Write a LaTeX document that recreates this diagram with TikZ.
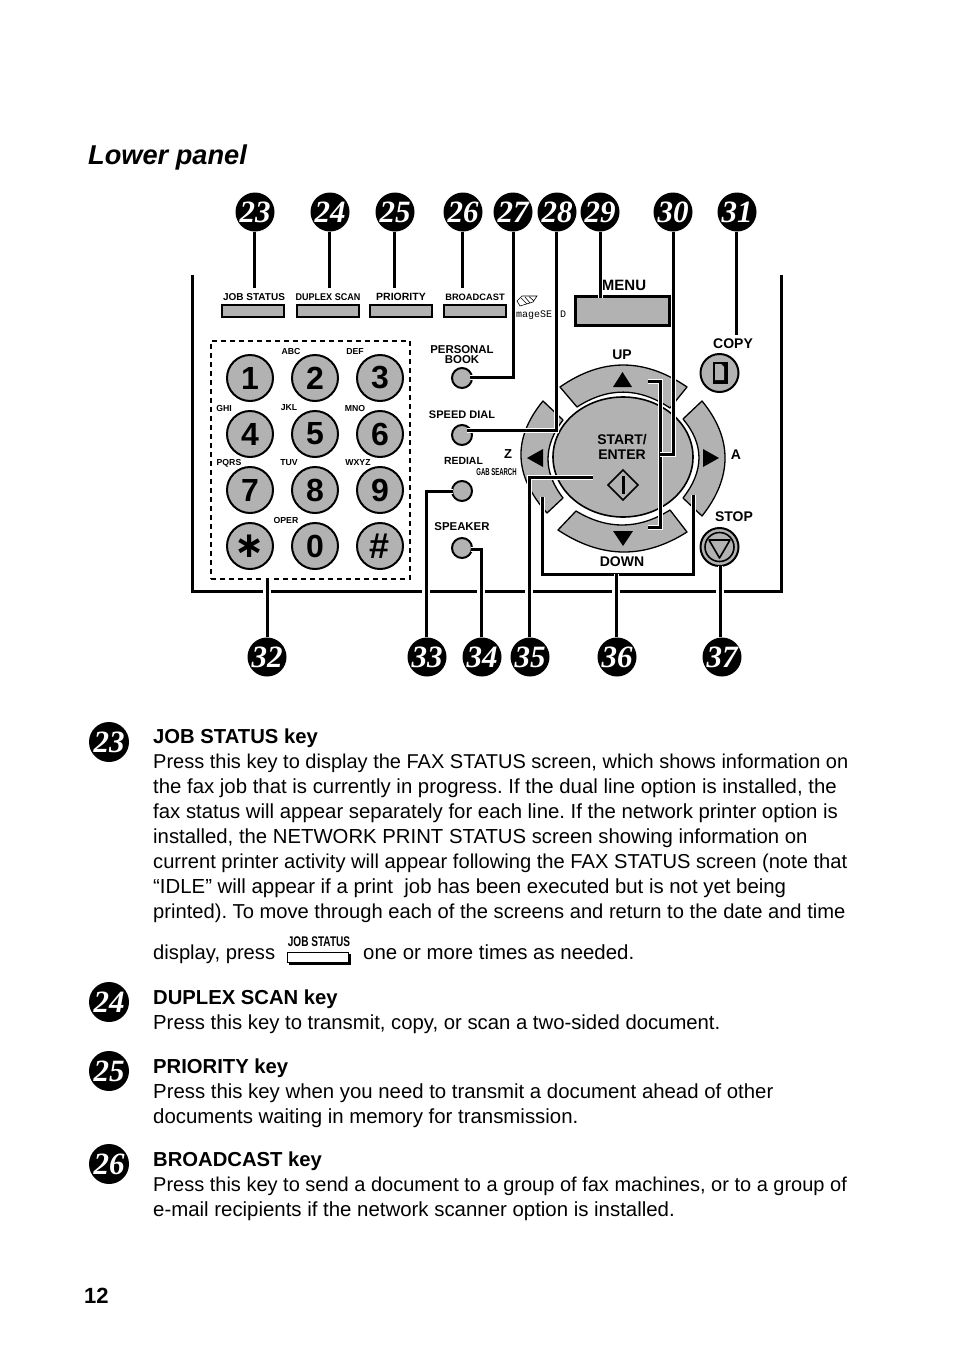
\documentclass[tikz,border=0pt]{standalone}
\usepackage{fontspec}
\setmainfont{Liberation Sans}
\newfontfamily\serifnum{Liberation Serif}
\newfontfamily\monof{Liberation Mono}
\newfontfamily\djv{DejaVu Sans}
\usetikzlibrary{calc,shapes.geometric}
\definecolor{keygrey}{gray}{0.70}
\newcommand{\fs}[1]{\fontsize{#1}{#1}\selectfont}
\frenchspacing
\tikzset{
  numcircle/.style={circle,fill=black,inner sep=0pt,minimum size=39pt,text=white,font=\serifnum\bfseries\itshape\fs{31}},
  listcircle/.style={numcircle,minimum size=40pt},
  leader/.style={line width=3pt,preaction={draw=white,line width=5pt}},
  greykey/.style={draw=black,line width=2pt,fill=keygrey},
  dialkey/.style={circle,draw=black,line width=2pt,fill=keygrey,inner sep=0pt,minimum size=46pt,font=\bfseries\fs{32}},
  fnkey/.style={circle,draw=black,line width=2pt,fill=keygrey,inner sep=0pt,minimum size=20pt},
  roundkey/.style={circle,draw=black,line width=2pt,fill=keygrey,inner sep=0pt,minimum size=38pt},
  arc key/.style={draw=black,line width=1.3pt,fill=keygrey,line join=round},
  tiny/.style={inner sep=0pt,font=\bfseries\fs{8.7}},
  keylab/.style={inner sep=0pt,anchor=base},
  lab/.style={inner sep=0pt,font=\bfseries\fs{11.4}},
  biglab/.style={inner sep=0pt,font=\bfseries\fs{14}},
  body/.style={anchor=base west,inner sep=0pt,font=\fs{20.3}},
  head/.style={anchor=base west,inner sep=0pt,font=\bfseries\fs{20.25}},
  tri/.style={fill=black,draw=none},
}
\begin{document}
\begin{tikzpicture}[x=1pt,y=-1pt]
\useasboundingbox (0,0) rectangle (954,1352);
\fill[white] (0,0) rectangle (954,1352);

\node[anchor=base west,inner sep=0pt,font=\bfseries\itshape\fs{27.2}] (title) at (88,164) {Lower panel};

% panel frame
\coordinate (pa) at (192,275); \coordinate (pb) at (192,591);
\coordinate (pc) at (781,591); \coordinate (pd) at (781,275);
\draw[line width=3pt] (pa) -- (pb) -- (pc) -- (pd);

% top keys
\node[greykey,minimum width=62pt,minimum height=12pt,inner sep=0pt] (kjob) at (253,311) {};
\node[greykey,minimum width=62pt,minimum height=12pt,inner sep=0pt] (kdup) at (328,311) {};
\node[greykey,minimum width=62pt,minimum height=12pt,inner sep=0pt] (kpri) at (401,311) {};
\node[greykey,minimum width=62pt,minimum height=12pt,inner sep=0pt] (kbro) at (475,311) {};
\node[keylab,font=\bfseries\fs{10}] (ljob) at (254,300.5) {JOB STATUS};
\node[keylab,font=\bfseries\fs{9.8}] (ldup) at (328,300.5) {\scalebox{.92}[1]{DUPLEX SCAN}};
\node[keylab,font=\bfseries\fs{10.5}] (lpri) at (401,300.5) {PRIORITY};
\node[keylab,font=\bfseries\fs{9.3}] (lbro) at (475,300.5) {BROADCAST};
\node[draw=black,line width=2.5pt,fill=keygrey,minimum width=94pt,minimum height=29pt,inner sep=0pt] (kmenu) at (622.5,311) {};
\node[biglab,font=\bfseries\fs{15}] (lmenu) at (624,285) {MENU};

% logo
\draw[line width=.6pt] (517,301) -- (522,296) -- (537,296) -- (533,302) -- (520,306) -- cycle;
\draw[line width=.6pt] (521,298) -- (527,304) (525,297) -- (530,303) (529,296.5) -- (534,301);
\node[anchor=base west,inner sep=0pt,font=\monof\fs{10}] (logo1) at (516,317) {mageSE};
\node[anchor=base west,inner sep=0pt,font=\monof\fs{10}] (logo2) at (560,317) {D};

% keypad
\node[draw=black,line width=2pt,dash pattern=on 5pt off 4pt,minimum width=199pt,minimum height=238pt,inner sep=0pt] (pad) at (310.5,460) {};
\node[dialkey] (d1) at (250,378) {1};
\node[dialkey] (d2) at (315,378) {2};
\node[dialkey] (d3) at (380,378) {3};
\node[dialkey] (d4) at (250,434) {4};
\node[dialkey] (d5) at (315,434) {5};
\node[dialkey] (d6) at (380,434) {6};
\node[dialkey] (d7) at (250,490) {7};
\node[dialkey] (d8) at (315,490) {8};
\node[dialkey] (d9) at (380,490) {9};
\node[dialkey] (dstar) at (250,546) {\djv\fs{36}\raisebox{-5pt}{∗}};
\node[dialkey] (d0) at (315,546) {0};
\node[dialkey] (dhash) at (380,546) {\fs{36}\#};
\node[tiny] (tabc) at (291,352) {ABC};
\node[tiny] (tdef) at (355,352) {DEF};
\node[tiny] (tghi) at (224,408) {GHI};
\node[tiny] (tjkl) at (289,408) {JKL};
\node[tiny] (tmno) at (355,408) {MNO};
\node[tiny] (tpqrs) at (229,463) {PQRS};
\node[tiny] (ttuv) at (289,463) {TUV};
\node[tiny] (twxyz) at (358,463) {WXYZ};
\node[tiny] (toper) at (286,520) {OPER};

% function keys
\node[fnkey] (bbook) at (462,378) {};
\node[fnkey] (bspeed) at (462,435) {};
\node[fnkey] (bredial) at (462,491) {};
\node[fnkey] (bspk) at (462,548) {};
\node[lab] (lpers) at (462,349.5) {PERSONAL};
\node[lab] (lbook) at (462,360) {BOOK};
\node[lab,font=\bfseries\fs{11}] (lspeed) at (462,414.5) {SPEED DIAL};
\node[lab,font=\bfseries\fs{10.4}] (lredial) at (463.5,461) {REDIAL};
\node[lab] (lspk) at (462,527) {SPEAKER};
\node[lab,font=\bfseries\fs{13}] (lz) at (508,454) {Z};
\node[tiny,font=\bfseries\fs{10}] (lgab) at (496.5,472) {\scalebox{.6}[1]{GAB SEARCH}};

% navigation keys
\path[arc key] (560,387) .. controls (602,357.7) and (644.3,357.7) .. (687,387) -- (670,408) .. controls (638.7,387) and (608,387) .. (577,407) -- cycle;
\path[arc key] (558,530) .. controls (601.3,558.7) and (644,559.3) .. (687,532) -- (670,510) .. controls (638.7,529.7) and (607.3,530) .. (576,511) -- cycle;
\path[arc key] (543,401) .. controls (512.3,438.3) and (513.7,475.7) .. (547,513) -- (563,498) .. controls (543,472) and (543,446) .. (563,420) -- cycle;
\path[arc key] (702,401) .. controls (732.7,438.3) and (732.7,477.3) .. (702,516) -- (683,498) .. controls (704.3,470.7) and (704.3,444.3) .. (683,419) -- cycle;
\node[ellipse,draw=black,line width=1.6pt,fill=keygrey,minimum width=140pt,minimum height=120pt,inner sep=0pt] (kstart) at (623,457) {};
\fill[tri] (613,387) -- (622.5,372) -- (632,387) -- cycle;
\fill[tri] (613,531) -- (623,546) -- (633,531) -- cycle;
\fill[tri] (543,449) -- (527,458) -- (543,467) -- cycle;
\fill[tri] (703,449) -- (719,458) -- (703,467) -- cycle;
\node[biglab] (lup) at (622,355) {UP};
\node[biglab] (ldown) at (622,562) {DOWN};
\node[biglab] (lstart) at (622,440) {START/};
\node[biglab] (lenter) at (622,455) {ENTER};
\node[biglab] (la) at (736,455) {A};
\node[biglab] (lcopy) at (733,344) {COPY};
\node[biglab] (lstop) at (734,517) {STOP};
\draw[line width=1.6pt,line join=miter] (623,470) -- (638,485) -- (623,500) -- (608,485) -- cycle;
\draw[line width=3pt] (623,476) -- (623,494);

% copy and stop
\node[roundkey] (kcopy) at (719.5,373) {};
\fill[black] (713,362) -- (728,362) -- (728,384) -- (713,384) -- cycle;
\fill[keygrey] (715,364) -- (721,364) -- (724,367) -- (724,380) -- (715,380) -- cycle;
\node[roundkey] (kstop) at (719.5,547) {};
\node[circle,draw=black,line width=1.6pt,inner sep=0pt,minimum size=29pt] (kstopi) at (719.5,547) {};
\draw[line width=1.6pt,line join=round] (709,540) -- (730,540) -- (719.5,558) -- cycle;

% number circles
\node[numcircle] (n23) at (255,212) {23};
\node[numcircle] (n24) at (330,212) {24};
\node[numcircle] (n25) at (395,212) {25};
\node[numcircle] (n26) at (463,212) {26};
\node[numcircle] (n27) at (513,212) {27};
\node[numcircle] (n28) at (557,212) {28};
\node[numcircle] (n29) at (600,212) {29};
\node[numcircle] (n30) at (673,212) {30};
\node[numcircle] (n31) at (737,212) {31};
\node[numcircle] (n32) at (267,657) {32};
\node[numcircle] (n33) at (427,657) {33};
\node[numcircle] (n34) at (482,657) {34};
\node[numcircle] (n35) at (530,657) {35};
\node[numcircle] (n36) at (617,657) {36};
\node[numcircle] (n37) at (722,657) {37};

% leader ends
\coordinate (e23) at (254,288); \coordinate (e24) at (329,288);
\coordinate (e25) at (394,288); \coordinate (e26) at (462,288);
\coordinate (e27) at (470,377); \coordinate (b27) at (513,377);
\coordinate (e28) at (467,430); \coordinate (b28) at (556,430);
\coordinate (e29) at (600,298);
\coordinate (b30) at (673,454); \coordinate (e30) at (660,454);
\coordinate (t30) at (648,381); \coordinate (u30) at (660,381);
\coordinate (v30) at (660,527); \coordinate (w30) at (648,527);
\coordinate (e31) at (736,335);
\coordinate (e32) at (267,578);
\coordinate (b33) at (426,491); \coordinate (e33) at (453,491);
\coordinate (b34) at (481,549); \coordinate (e34) at (471,549);
\coordinate (b35) at (529,477); \coordinate (e35) at (593,477);
\coordinate (e36) at (616,574);
\coordinate (l36) at (542,497); \coordinate (m36) at (542,574);
\coordinate (r36) at (693,574); \coordinate (s36) at (693,495);
\coordinate (e37) at (720,566);

% gaps in the frame where leaders cross it
\foreach \c in {e32,b33,b34,b35,e36,e37}
  \draw[white,line width=8pt] ([yshift=4pt]pb -| \c) -- ([yshift=-4pt]pb -| \c);

% leaders
\draw[leader] (n23.south -| e23) -- (e23);
\draw[leader] (n24.south -| e24) -- (e24);
\draw[leader] (n25.south -| e25) -- (e25);
\draw[leader] (n26.south -| e26) -- (e26);
\draw[leader] (n27.south -| b27) -- (b27) -- (e27);
\draw[leader] (n28.south -| b28) -- (b28) -- (e28);
\draw[leader] (n29.south -| e29) -- (e29);
\draw[leader] (t30) -- (u30) -- (v30) -- (w30);
\draw[leader] (n30.south -| b30) -- (b30) -- (e30);
\draw[leader] (n31.south -| e31) -- (e31);
\draw[leader] (n32.north -| e32) -- (e32);
\draw[leader] (n33.north -| b33) -- (b33) -- (e33);
\draw[leader] (n34.north -| b34) -- (b34) -- (e34);
\draw[leader] (n35.north -| b35) -- (b35) -- (e35);
\draw[leader] (l36) -- (m36) -- (r36) -- (s36);
\draw[leader] (n36.north -| e36) -- (e36);
\draw[leader] (n37.north -| e37) -- (e37);

% list
\node[listcircle] (m23) at (109,742) {23};
\node[listcircle] (m24) at (109,1002) {24};
\node[listcircle] (m25) at (109,1071) {25};
\node[listcircle] (m26) at (109,1164) {26};

\node[head] (h1) at (153,743) {JOB STATUS key};
\node[body,font=\fs{20}] (t11) at (153,768) {Press this key to display the FAX STATUS screen, which shows information on};
\node[body,font=\fs{20.36}] (t12) at (153,793) {the fax job that is currently in progress. If the dual line option is installed, the};
\node[body,font=\fs{20.36}] (t13) at (153,818) {fax status will appear separately for each line. If the network printer option is};
\node[body,font=\fs{20.32}] (t14) at (153,843) {installed, the NETWORK PRINT STATUS screen showing information on};
\node[body,font=\fs{20.13}] (t15) at (153,868) {current printer activity will appear following the FAX STATUS screen (note that};
\node[body,font=\fs{20.37}] (t16) at (153,893) {“IDLE” will appear if a print\ \ job has been executed but is not yet being};
\node[body,font=\fs{20.15}] (t17) at (153,918) {printed). To move through each of the screens and return to the date and time};
\node[body,font=\fs{20.2}] (t18) at (153,959) {display, press};
\node[body,font=\fs{20.4}] (t19) at (363,959) {one or more times as needed.};
\node[inner sep=0pt,font=\bfseries\fs{14}] (ijob) at (319,942) {\scalebox{.72}[1]{JOB STATUS}};
\fill[black] (289,954) rectangle (351,965);
\draw[line width=1.2pt,fill=white] (287.5,952.5) rectangle (348.5,962.5);

\node[head] (h2) at (153,1004) {DUPLEX SCAN key};
\node[body,font=\fs{20.3}] (t21) at (153,1029) {Press this key to transmit, copy, or scan a two-sided document.};
\node[head] (h3) at (153,1073) {PRIORITY key};
\node[body,font=\fs{20.36}] (t31) at (153,1098) {Press this key when you need to transmit a document ahead of other};
\node[body,font=\fs{20.4}] (t32) at (153,1123) {documents waiting in memory for transmission.};
\node[head] (h4) at (153,1166) {BROADCAST key};
\node[body,font=\fs{20}] (t41) at (153,1191) {Press this key to send a document to a group of fax machines, or to a group of};
\node[body,font=\fs{20.4}] (t42) at (153,1216) {e-mail recipients if the network scanner option is installed.};
\node[anchor=base west,inner sep=0pt,font=\bfseries\fs{22}] (pg) at (84,1303) {12};
\end{tikzpicture}
\end{document}
